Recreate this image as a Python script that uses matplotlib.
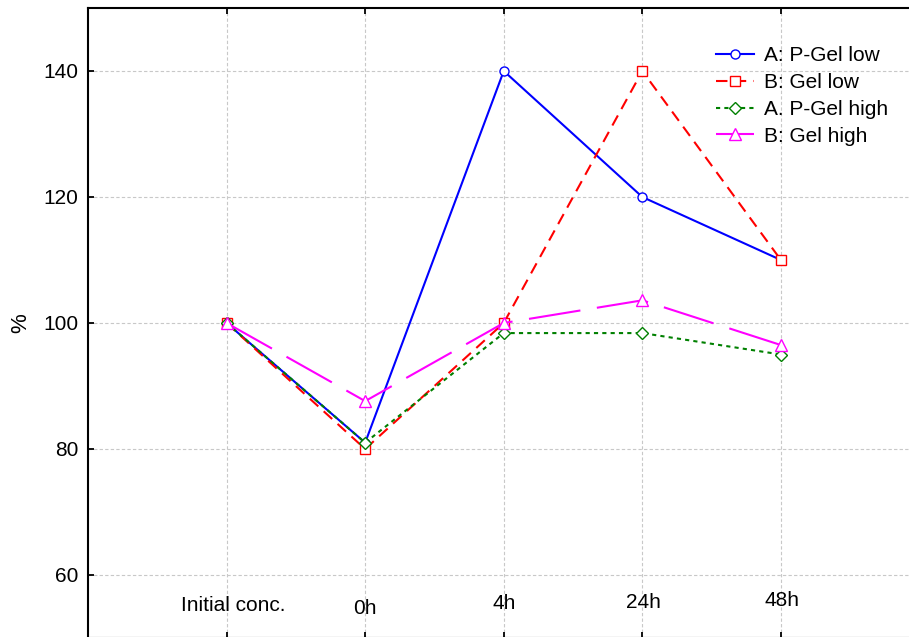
import matplotlib
matplotlib.use("Agg")
import matplotlib.pyplot as plt
import matplotlib.transforms as mtransforms

plt.rcParams["font.family"] = ["Liberation Sans", "DejaVu Sans"]

categories = ["Initial conc.", "0h", "4h", "24h", "48h"]
p_gel_low = [100, 81, 140, 120, 110]
gel_low = [100, 80, 100, 140, 110]
p_gel_high = [100, 81, 98.4, 98.4, 95]
gel_high = [100, 87.6, 100, 103.6, 96.5]

# small hand-tuned nudges for the category labels (data x, axes y)
label_dx = [0.05, 0.0, 0.0, 0.01, 0.01]
label_y = [0.052, 0.047, 0.054, 0.056, 0.060]

fig = plt.figure(figsize=(9.09, 6.37), dpi=100)
ax = fig.add_axes([88 / 909, -1 / 637, 831.5 / 909, 630 / 637])

x = list(range(len(categories)))
ax.plot(x, p_gel_low, color="blue", lw=1.5, marker="o", ms=6.5,
        mfc="white", mec="blue", label="A: P-Gel low", zorder=2)
ax.plot(x, gel_low, color="red", lw=1.5, dashes=(5.5, 3.5), marker="s", ms=7.5,
        mfc="white", mec="red", label="B: Gel low", zorder=3)
ax.plot(x, p_gel_high, color="green", lw=1.5, dashes=(2, 2), marker="D", ms=6,
        mfc="white", mec="green", label="A. P-Gel high", zorder=4)
ax.plot(x, gel_high, color="magenta", lw=1.5, dashes=(25, 8), marker="^", ms=8,
        mfc="white", mec="magenta", label="B: Gel high", zorder=5)

ax.set_xlim(-1, 5)
ax.set_ylim(50, 150)
ax.set_yticks([60, 80, 100, 120, 140])
ax.set_xticks(x)
ax.set_xticklabels([])

ax.grid(True, color="#c8c8c8", linestyle=(0, (3, 2)), lw=0.8)
ax.set_axisbelow(True)

ax.tick_params(axis="both", direction="in", length=4, width=1.3,
               labelsize=15, top=True, bottom=True, pad=7)
for s in ax.spines.values():
    s.set_linewidth(1.5)

trans = mtransforms.blended_transform_factory(ax.transData, ax.transAxes)
for xi, lab, dx, ly in zip(x, categories, label_dx, label_y):
    ax.text(xi + dx, ly, lab, transform=trans, ha="center", va="center", fontsize=15)

ax.set_ylabel("%", fontsize=16)
ax.yaxis.set_label_coords(-0.068, 0.5)

ax.legend(loc="upper left", bbox_to_anchor=(716 / 909, 1 - 46 / 637),
          bbox_transform=fig.transFigure, frameon=False, fontsize=15,
          borderpad=0, borderaxespad=0, handlelength=1.8, handletextpad=0.5,
          labelspacing=0.38, numpoints=1)

fig.savefig("out.png", dpi=100)
